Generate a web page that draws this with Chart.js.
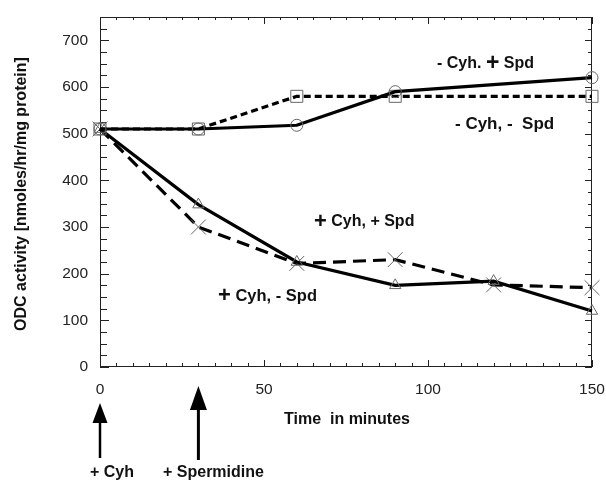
<!DOCTYPE html>
<html><head><meta charset="utf-8">
<script src="https://cdn.jsdelivr.net/npm/chart.js@4/dist/chart.umd.min.js"></script>
<style>html,body{margin:0;padding:0;background:#fff}#wrap{width:606px;height:481px}</style>
</head><body><div id="wrap"><canvas id="c" width="606" height="481"></canvas></div>
<script>
// ---- data ----
const timesMinusCyhPlusSpd = [0, 30, 60, 90, 150];
const minusCyhPlusSpd = [510, 510, 518, 590, 620];
const timesMinusCyhMinusSpd = [0, 30, 60, 90, 150];
const minusCyhMinusSpd = [510, 510, 580, 580, 580];
const timesPlusCyh = [0, 30, 60, 90, 120, 150];
const plusCyhPlusSpd = [510, 348, 225, 175, 184, 120];
const plusCyhMinusSpd = [510, 300, 222, 230, 176, 170];
const xTickValues = [0, 50, 100, 150];
const yTickValues = [0, 100, 200, 300, 400, 500, 600, 700];
const xTitle = 'Time  in minutes';
const yTitle = 'ODC activity [nmoles/hr/mg protein]';
const arrowEvents = [{t: 0, label: '+ Cyh'}, {t: 30, label: '+ Spermidine'}];

const pts = (xs, ys) => xs.map((x, i) => ({x, y: ys[i]}));
const FONT = "'Liberation Sans', Arial, sans-serif";

function richText(ctx, parts, x, y) {
  let cx = x;
  for (const [txt, size] of parts) {
    ctx.font = 'bold ' + size + 'px ' + FONT;
    ctx.fillText(txt, cx, y);
    cx += ctx.measureText(txt).width;
  }
}

const decor = {
  id: 'decor',
  beforeDatasetsDraw(chart) {
    const {ctx, chartArea: a, scales: {x, y}} = chart;
    ctx.save();
    ctx.strokeStyle = '#222';
    ctx.lineWidth = 1;
    ctx.strokeRect(a.left + 0.5, a.top + 0.5, a.right - a.left - 1, a.bottom - a.top - 1);
    ctx.beginPath();
    for (let t = 0; t <= 150; t += 5) {
      const px = Math.round(x.getPixelForValue(t)) + 0.5;
      const major = t % 50 === 0;
      ctx.moveTo(px, a.bottom); ctx.lineTo(px, a.bottom - (major ? 7 : 4));
      ctx.moveTo(px, a.top); ctx.lineTo(px, a.top + (major ? 7 : 3));
    }
    for (let v = 0; v <= 750; v += 25) {
      const py = Math.round(y.getPixelForValue(v)) + 0.5;
      const major = v % 100 === 0;
      ctx.moveTo(a.left, py); ctx.lineTo(a.left + (major ? 9 : 7), py);
      ctx.moveTo(a.right, py); ctx.lineTo(a.right - (major ? 7 : 4), py);
    }
    ctx.stroke();
    ctx.restore();
  },
  afterDraw(chart) {
    const {ctx, chartArea: a, scales: {x, y}} = chart;
    ctx.save();
    ctx.fillStyle = '#111';
    ctx.textBaseline = 'middle';
    ctx.textAlign = 'left';
    richText(ctx, [['- Cyh. ', 16], ['+', 23], [' Spd', 16]], 437, 64);
    richText(ctx, [['- Cyh, -  Spd', 17]], 455, 124);
    richText(ctx, [['+', 22], [' Cyh, + Spd', 16]], 314, 222);
    richText(ctx, [['+', 22], [' Cyh, - Spd', 16.5]], 218, 296);
    // axis titles
    ctx.font = 'bold 16px ' + FONT;
    ctx.textAlign = 'center';
    ctx.fillText(xTitle, 347, 420);
    ctx.save();
    ctx.translate(22, 194);
    ctx.rotate(-Math.PI / 2);
    ctx.font = 'bold 16px ' + FONT;
    ctx.fillText(yTitle, 0, 0);
    ctx.restore();
    // arrows
    const specs = [{tip: 403, base: 423, w: 15, end: 458, lw: 2.5}, {tip: 386, base: 410, w: 17, end: 460, lw: 3}];
    arrowEvents.forEach((ev, i) => {
      const s = specs[i];
      const px = x.getPixelForValue(ev.t);
      ctx.strokeStyle = '#000'; ctx.fillStyle = '#000'; ctx.lineWidth = s.lw;
      ctx.beginPath(); ctx.moveTo(px, s.base - 2); ctx.lineTo(px, s.end); ctx.stroke();
      ctx.beginPath(); ctx.moveTo(px, s.tip); ctx.lineTo(px - s.w / 2, s.base); ctx.lineTo(px + s.w / 2, s.base); ctx.closePath(); ctx.fill();
      ctx.font = 'bold 16px ' + FONT;
      ctx.fillStyle = '#111';
      ctx.textAlign = 'left';
      ctx.fillText(ev.label, i === 0 ? 90 : 163, 473);
    });
    ctx.restore();
  }
};

const common = {borderColor: '#000', borderWidth: 3.2, pointBorderColor: '#666', pointBorderWidth: 1,
  pointBackgroundColor: 'rgba(0,0,0,0)', pointRadius: 6, clip: false, tension: 0, fill: false};

new Chart(document.getElementById('c'), {
  type: 'line',
  data: {datasets: [
    Object.assign({label: '- Cyh, + Spd', data: pts(timesMinusCyhPlusSpd, minusCyhPlusSpd), pointStyle: 'circle'}, common),
    Object.assign({label: '- Cyh, - Spd', data: pts(timesMinusCyhMinusSpd, minusCyhMinusSpd), pointStyle: 'rect', borderDash: [7, 4]}, common, {pointRadius: 8.5}),
    Object.assign({label: '+ Cyh, + Spd', data: pts(timesPlusCyh, plusCyhPlusSpd), pointStyle: 'triangle'}, common, {pointRadius: 6.5}),
    Object.assign({label: '+ Cyh, - Spd', data: pts(timesPlusCyh, plusCyhMinusSpd), pointStyle: 'crossRot', borderDash: [13, 7]}, common, {pointRadius: 10.5})
  ]},
  options: {
    responsive: false, animation: false,
    layout: {padding: {top: 17, right: 14, left: 0, bottom: 0}},
    plugins: {legend: {display: false}, tooltip: {enabled: false}},
    scales: {
      x: {type: 'linear', min: 0, max: 150,
        afterBuildTicks: s => { s.ticks = xTickValues.map(v => ({value: v})); },
        afterFit: s => { s.height = 114; s.paddingLeft = 0; s.paddingRight = 0; },
        grid: {display: false, drawTicks: false}, border: {display: false},
        ticks: {padding: 13, maxRotation: 0, color: '#222', font: {family: FONT, size: 15.5}}},
      y: {type: 'linear', min: 0, max: 750,
        afterBuildTicks: s => { s.ticks = yTickValues.map(v => ({value: v})); },
        afterFit: s => { s.width = 100; s.paddingTop = 0; s.paddingBottom = 0; },
        grid: {display: false, drawTicks: false}, border: {display: false},
        ticks: {padding: 12, color: '#222', font: {family: FONT, size: 15.5}}}
    }
  },
  plugins: [decor]
});
</script></body></html>
